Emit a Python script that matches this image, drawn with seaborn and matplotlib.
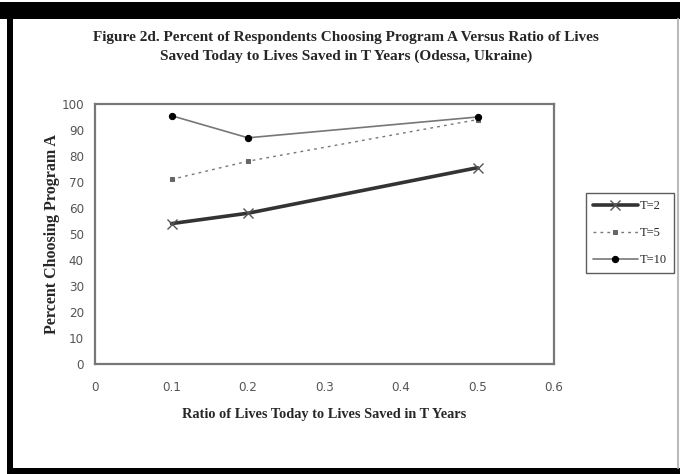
import matplotlib
matplotlib.use("Agg")
import matplotlib.pyplot as plt
import seaborn as sns
import pandas as pd
from matplotlib.patches import Rectangle
from matplotlib.lines import Line2D

ratio = [0.1, 0.2, 0.5]
t2 = [54, 58, 75.5]
t5 = [71, 78, 94]
t10 = [95.5, 87, 95]
series_names = ["T=2", "T=5", "T=10"]
xticks = [0, 0.1, 0.2, 0.3, 0.4, 0.5, 0.6]
yticks = list(range(0, 101, 10))

title = ("Figure 2d. Percent of Respondents Choosing Program A Versus Ratio of Lives\n"
         "Saved Today to Lives Saved in T Years (Odessa, Ukraine)")
xlabel = "Ratio of Lives Today to Lives Saved in T Years"
ylabel = "Percent Choosing Program A"

sns.set_theme(style="white")
plt.rcParams['font.family'] = ['Liberation Serif', 'DejaVu Serif']

df = pd.DataFrame({
    "ratio": ratio * 3,
    "pct": t2 + t5 + t10,
    "series": [series_names[0]] * 3 + [series_names[1]] * 3 + [series_names[2]] * 3,
})

W, H = 680, 474
fig = plt.figure(figsize=(W / 100, H / 100), dpi=100)
fig.patch.set_facecolor("white")

# outer frame
fig.patches.append(Rectangle((0, 1 - 19 / H), 1, 17 / H, transform=fig.transFigure,
                             facecolor="black", edgecolor="none"))
fig.patches.append(Rectangle((7 / W, 0), 6 / W, 1 - 17 / H, transform=fig.transFigure,
                             facecolor="black", edgecolor="none"))
fig.patches.append(Rectangle((7 / W, 0), 1 - 7 / W, 6 / H, transform=fig.transFigure,
                             facecolor="black", edgecolor="none"))
fig.lines.append(Line2D([678 / W, 678 / W], [6 / H, 1 - 19 / H], transform=fig.transFigure,
                        color="#bbbbbb", lw=1.5))

ax = fig.add_axes([95 / W, 1 - 364 / H, (554 - 95) / W, (364 - 104) / H])

styles = {
    "T=2": dict(color="#333333", lw=2.6, linestyle="-", marker="x", markersize=10,
                markeredgewidth=1.0, markeredgecolor="#555555"),
    "T=5": dict(color="#777777", lw=1.0, linestyle=(0, (2, 3)), marker="s", markersize=3.5,
                markerfacecolor="#666666", markeredgecolor="#666666"),
    "T=10": dict(color="#777777", lw=1.2, linestyle="-", marker="o", markersize=6,
                 markerfacecolor="black", markeredgecolor="black"),
}
for name in series_names:
    sub = df[df["series"] == name]
    sns.lineplot(data=sub, x="ratio", y="pct", ax=ax, label=name, **styles[name])

tick_font = dict(family=['DejaVu Sans'], fontstretch='condensed', fontsize=9.5, color="#555555")
ax.set_xlim(0, 0.6)
ax.set_ylim(0, 100)
ax.set_xticks(xticks)
ax.set_yticks(yticks)
ax.set_xticklabels(["0" if v == 0 else f"{v:.1f}" for v in xticks], **tick_font)
ax.set_yticklabels([str(v) for v in yticks], **tick_font)
ax.tick_params(axis="both", direction="inout", length=6, width=1, color="#666666")
ax.tick_params(axis="x", pad=9)
ax.tick_params(axis="y", pad=5)
for s in ax.spines.values():
    s.set_color("#777777")
    s.set_linewidth(1.6)
ax.grid(False)
ax.set_xlabel(xlabel, fontsize=10.3, fontweight="bold", labelpad=10)
ax.set_ylabel(ylabel, fontsize=11.5, fontweight="bold", labelpad=1)

ax.get_legend().remove()
handles, labels = ax.get_legend_handles_labels()
for h in handles:
    h.set_markersize(h.get_markersize() * 0.75)
leg = fig.legend(handles, labels, loc="upper left", bbox_to_anchor=(586 / W, 1 - 193 / H),
                 frameon=True, fancybox=False, fontsize=9, handlelength=3.6,
                 handletextpad=0.15, labelspacing=1.2, borderpad=0.55, borderaxespad=0)
leg.get_frame().set_edgecolor("#333333")
leg.get_frame().set_linewidth(1.0)

fig.text(346 / W, 1 - 47 / H, title, ha="center", va="center", fontsize=11,
         fontweight="bold", linespacing=1.6)

fig.savefig("out.png", dpi=100, facecolor="white")
